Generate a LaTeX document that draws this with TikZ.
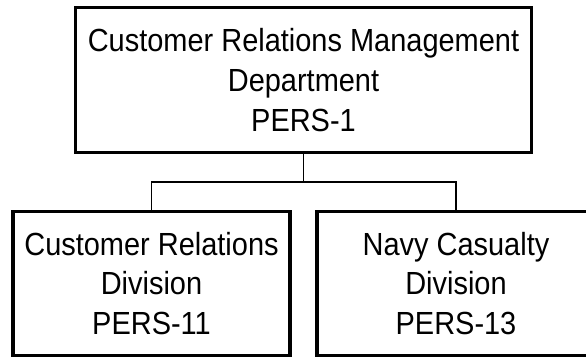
\documentclass[tikz,border=0pt]{standalone}
\usepackage{fontspec}
\setmainfont[FakeStretch=0.905]{Liberation Sans}
\begin{document}
\begin{tikzpicture}[x=1pt,y=1pt,
  orgbox/.style={draw=black, line width=3.3pt, fill=white, rectangle, align=center,
    inner sep=0pt, font=\fontsize{32}{39.7}\selectfont},
  link/.style={draw=black, line width=1.1pt}]
\useasboundingbox (0,0) rectangle (586,356);
\node[orgbox, minimum width=456pt, minimum height=145pt] (top) at (303.5,276)
  {Customer Relations Management\\Department\\PERS-1};
\node[orgbox, minimum width=277pt, minimum height=144pt] (left) at (151.5,72.5)
  {Customer Relations\\Division\\PERS-11};
\node[orgbox, minimum width=278pt, minimum height=144pt] (right) at (456,72.5)
  {Navy Casualty\\Division\\PERS-13};
\coordinate (bus) at (303.5,174);
\draw[link] (top.south) -- (bus);
\draw[link] (left.north) |- (bus) -| (right.north);
\end{tikzpicture}
\end{document}
